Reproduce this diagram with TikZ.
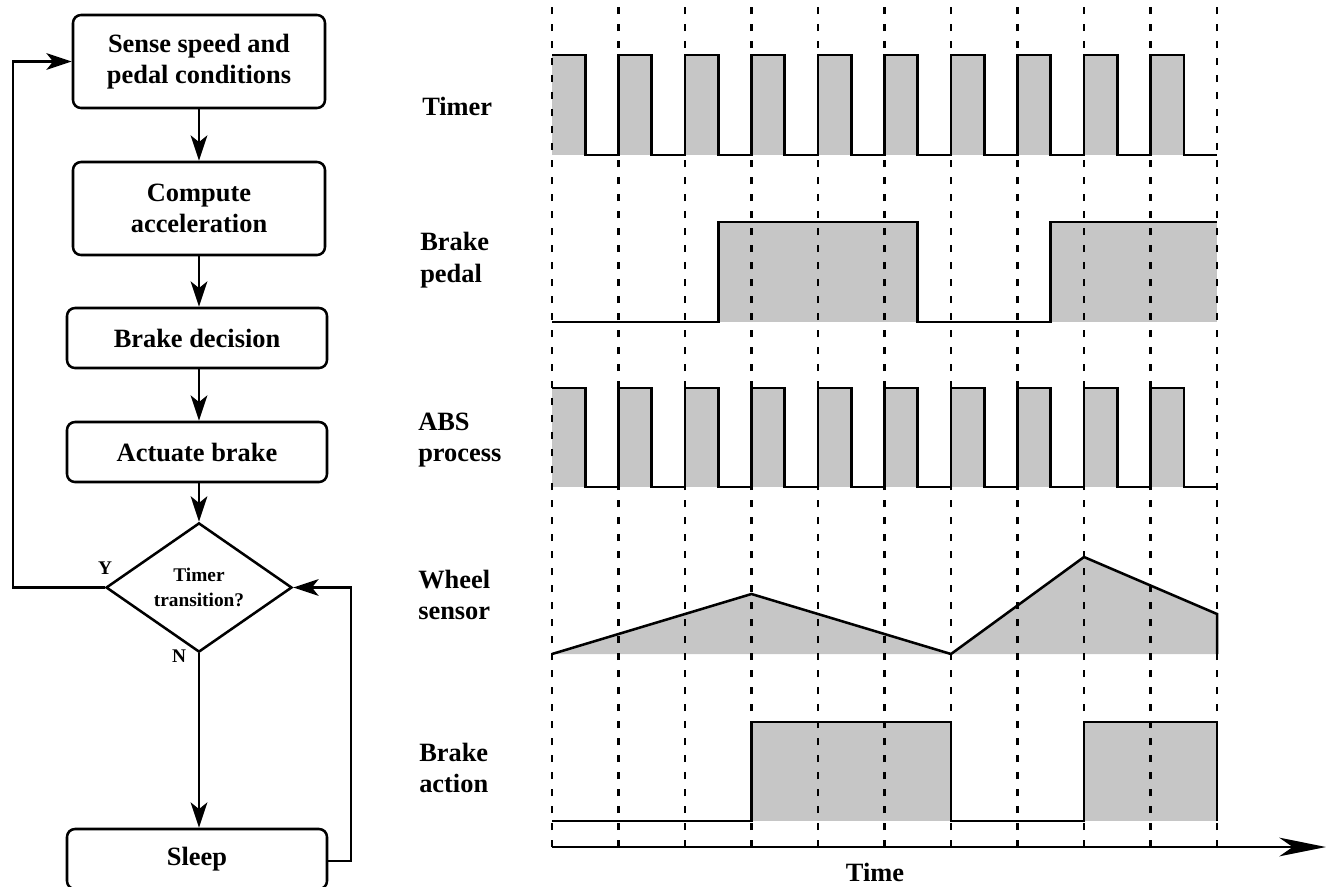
\documentclass[tikz,border=0pt]{standalone}
\usepackage{fontspec}
\setmainfont{Liberation Serif}
\usetikzlibrary{shapes.geometric,arrows.meta}
\definecolor{wavegray}{RGB}{198,198,198}
\begin{document}
\begin{tikzpicture}[x=0.75pt,y=-0.75pt,line width=1.9pt,
  bigtext/.style={font=\fontsize{19.8}{23.6}\selectfont\bfseries},
  smalltext/.style={font=\fontsize{14.5}{19}\selectfont\bfseries},
  procbox/.style={draw,rounded corners=6pt,bigtext,align=center,inner sep=0pt},
  decision/.style={draw,diamond,smalltext,align=center,inner sep=0pt,
    minimum width=139.5pt,minimum height=78.75pt},
  flow/.style={-{Stealth[length=19pt,width=12.5pt,inset=5pt]}},
  gridline/.style={dash pattern=on 5.5pt off 7.25pt,line width=1.7pt},
  wave/.style={line width=1.9pt,line join=miter},
  sigfill/.style={fill=wavegray},
  siglabel/.style={bigtext,align=left,inner sep=0pt}
]
\useasboundingbox (0,0) rectangle (1327,886);

% ---------------- flowchart ----------------
\node[procbox,minimum width=189pt,minimum height=69.75pt] (sense) at (199,61.5)
  {Sense speed and\\pedal conditions};
\node[procbox,minimum width=189pt,minimum height=69.75pt] (accel) at (199,208.5)
  {Compute\\acceleration};
\node[procbox,minimum width=195pt,minimum height=45pt] (decide) at (197,338)
  {Brake decision};
\node[procbox,minimum width=195pt,minimum height=45pt] (actuate) at (197,452)
  {Actuate brake};
\node[decision] (timer) at (199,587.5) {Timer\\transition?};
\node[procbox,minimum width=195pt,minimum height=45pt] (sleep) at (197,859)
  {Sleep};

\node[smalltext,inner sep=0pt] (ylab) at (105,568) {Y};
\node[smalltext,inner sep=0pt] (nlab) at (179,656) {N};

\draw[flow] (sense.south) -- (sense.south |- accel.north);
\draw[flow] (accel.south) -- (accel.south |- decide.north);
\draw[flow] (accel.south |- decide.south) -- (accel.south |- actuate.north);
\draw[flow] (accel.south |- actuate.south) -- (timer.north);
\draw[flow] (timer.south) -- (timer.south |- sleep.north);

\coordinate (yleft) at (13,587.5);
\coordinate (ytop) at (13,61.5);
\draw[flow] (timer.west) -- (yleft) -- (ytop) -- (sense.west);

\coordinate (nright) at (351,861);
\coordinate (ntop) at (351,587.5);
\draw[flow] (sleep.east |- nright) -- (nright) -- (ntop) -- (timer.east);

% ---------------- signal labels ----------------
\node[siglabel,anchor=west] (lTimer)  at (421,106) {Timer};
\node[siglabel,anchor=west] (lPedal)  at (419,260) {Brake\\pedal};
\node[siglabel,anchor=west] (lABS)    at (417,440) {ABS\\process};
\node[siglabel,anchor=west] (lWheel)  at (417,595) {Wheel\\sensor};
\node[siglabel,anchor=west] (lAction) at (418,768) {Brake\\action};

% ---------------- shaded areas ----------------
\foreach \i in {0,...,9} {
  \fill[sigfill] ({552+66.5*\i},55) rectangle ++(33.25,100);
  \fill[sigfill] ({552+66.5*\i},388) rectangle ++(33.25,99);
}
\fill[sigfill] (718.25,222) rectangle (917.75,322);
\fill[sigfill] (1050.75,222) rectangle (1217,322);
\fill[sigfill] (552,654) -- (751.5,594) -- (951,654) -- (1084,557) -- (1217,614) -- (1217,654) -- cycle;
\fill[sigfill] (751.5,722) rectangle (951,821);
\fill[sigfill] (1084,722) rectangle (1217,821);

% ---------------- time grid ----------------
\foreach \i in {0,...,10} {
  \draw[gridline] ({552+66.5*\i},847) -- ({552+66.5*\i},0);
}

% ---------------- waveforms ----------------
% timer
\draw[wave] (552,55) \foreach \i in {0,...,8} { -- ++(33.25,0) -- ++(0,100) -- ++(33.25,0) -- ++(0,-100) }
  -- ++(33.25,0) -- ++(0,100) -- ++(33.25,0);
% brake pedal
\draw[wave] (552,322) -- (718.25,322) -- (718.25,222) -- (917.75,222) -- (917.75,322)
  -- (1050.75,322) -- (1050.75,222) -- (1217,222);
% ABS process
\draw[wave] (552,388) \foreach \i in {0,...,8} { -- ++(33.25,0) -- ++(0,99) -- ++(33.25,0) -- ++(0,-99) }
  -- ++(33.25,0) -- ++(0,99) -- ++(33.25,0);
% wheel sensor
\draw[wave] (552,654) -- (751.5,594) -- (951,654) -- (1084,557) -- (1217,614) -- (1217,654);
% brake action
\draw[wave] (552,821) -- (751.5,821) -- (751.5,722) -- (951,722) -- (951,821)
  -- (1084,821) -- (1084,722) -- (1217,722) -- (1217,821);

% ---------------- time axis ----------------
\coordinate (t0) at (552,847);
\coordinate (tend) at (1326,847);
\draw[-{Stealth[length=35pt,width=14pt,inset=10pt]}] (t0) -- (tend);
\node[bigtext,inner sep=0pt] (tlab) at (875,872) {Time};
\end{tikzpicture}
\end{document}
